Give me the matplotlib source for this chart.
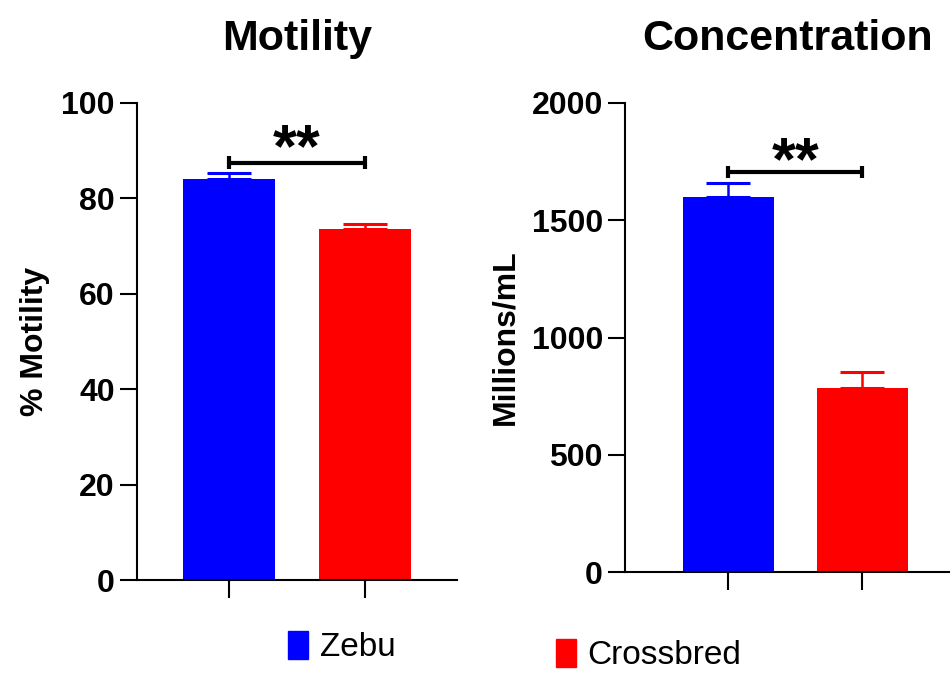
import matplotlib
matplotlib.use('Agg')
import matplotlib.pyplot as plt
from matplotlib.patches import Patch

plt.rcParams['font.family'] = ['Liberation Sans', 'DejaVu Sans']

GROUPS = ['Zebu', 'Crossbred']
COLORS = ['#0000ff', '#ff0000']

MOTILITY_MEAN = [84.0, 73.5]
MOTILITY_ERR = [1.4, 1.1]
MOTILITY_SIG = 87.5
MOTILITY_STARS = 91.3

CONC_MEAN = [1600, 783]
CONC_ERR = [60, 71]
CONC_SIG = 1705
CONC_STARS = 1768


def style_axes(ax, ylim, yticks, ylabel, title, xlim):
    for side in ['top', 'right']:
        ax.spines[side].set_visible(False)
    for side in ['left', 'bottom']:
        ax.spines[side].set_linewidth(1.5)
    ax.set_xlim(*xlim)
    ax.set_ylim(*ylim)
    ax.set_yticks(yticks)
    ax.set_xticks([0, 1])
    ax.set_xticklabels([])
    ax.tick_params(axis='y', length=12, width=1.5, labelsize=23, pad=4)
    ax.tick_params(axis='x', length=13, width=1.5)
    for lab in ax.get_yticklabels():
        lab.set_fontweight('bold')
    ax.set_ylabel(ylabel, fontsize=23, fontweight='bold', labelpad=8)
    ax.set_title(title, fontsize=31, fontweight='bold', pad=38)


def draw_panel(ax, means, errs, sig_y, star_y, cap_h):
    xs = [0, 1]
    ax.bar(xs, means, width=0.68, color=COLORS, zorder=2)
    for x, m, e, c in zip(xs, means, errs, COLORS):
        ax.errorbar(x, m, yerr=[[0], [e]], color=c, capsize=16,
                    elinewidth=1.8, capthick=2.2, zorder=1)
    ax.plot([0, 1], [sig_y, sig_y], color='black', lw=3, solid_capstyle='butt')
    for x in xs:
        ax.plot([x, x], [sig_y - cap_h, sig_y + cap_h], color='black', lw=3,
                solid_capstyle='butt')
    ax.text(0.5, star_y, '**', ha='center', va='center_baseline', fontsize=44,
            fontweight='bold')


fig = plt.figure(figsize=(9.5, 6.73), dpi=100)

ax1 = fig.add_axes([0.1442, 0.138, 0.3368, 0.709])
draw_panel(ax1, MOTILITY_MEAN, MOTILITY_ERR, MOTILITY_SIG, MOTILITY_STARS, 1.3)
style_axes(ax1, (0, 100), [0, 20, 40, 60, 80, 100], '% Motility', 'Motility',
           (-0.676, 1.676))

ax2 = fig.add_axes([0.658, 0.150, 0.342, 0.697])
draw_panel(ax2, CONC_MEAN, CONC_ERR, CONC_SIG, CONC_STARS, 27)
style_axes(ax2, (0, 2000), [0, 500, 1000, 1500, 2000], 'Millions/mL',
           'Concentration', (-0.77, 1.655))

for name, color, anchor in [('Zebu', COLORS[0], (288 / 950, 1 - 647 / 673)),
                            ('Crossbred', COLORS[1], (556 / 950, 1 - 655 / 673))]:
    fig.legend(handles=[Patch(color=color, label=name)], loc='center left',
               bbox_to_anchor=anchor, frameon=False, fontsize=24,
               borderpad=0, borderaxespad=0, handlelength=0.6,
               handleheight=0.95, handletextpad=0.35)

fig.savefig('out.png', dpi=100)
